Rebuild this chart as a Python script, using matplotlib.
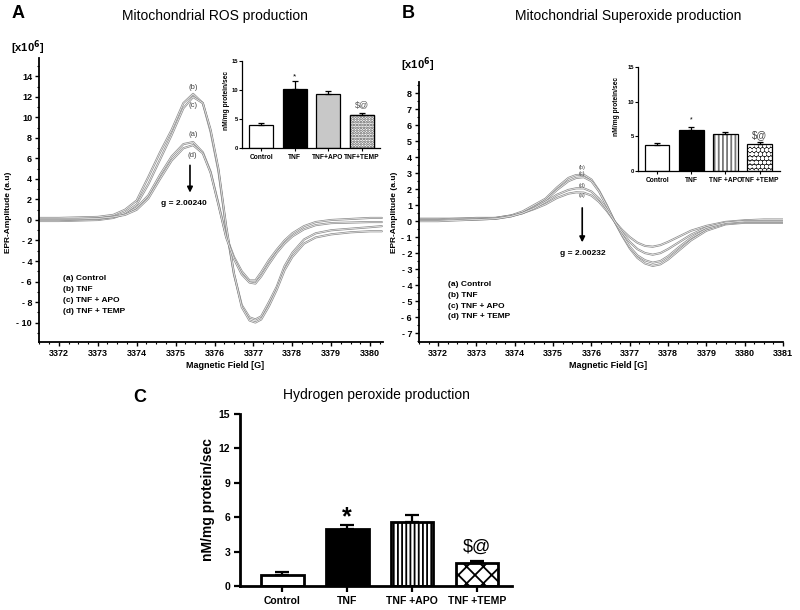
import matplotlib
matplotlib.use('Agg')
import matplotlib.pyplot as plt
from matplotlib.ticker import MultipleLocator, FuncFormatter

plt.rcParams['font.family'] = ['Liberation Sans', 'DejaVu Sans']
plt.rcParams['font.weight'] = 'bold'
plt.rcParams['axes.labelweight'] = 'bold'
plt.rcParams['hatch.linewidth'] = 1.3

# ---- EPR spectra, panel A (field in G, amplitude in 1e6 a.u.)
field_a = [3371.5, 3372.0, 3372.5, 3373.0, 3373.4, 3373.7, 3374.0, 3374.3, 3374.6, 3374.9,
           3375.2, 3375.45, 3375.7, 3375.9, 3376.1, 3376.3, 3376.5, 3376.7, 3376.9, 3377.05,
           3377.2, 3377.4, 3377.6, 3377.8, 3378.0, 3378.3, 3378.6, 3379.0, 3379.5, 3380.0, 3380.3]
ros_control = [-0.1, -0.1, -0.05, 0.0, 0.2, 0.6, 1.2, 2.4, 4.4, 6.2,
               7.4, 7.6, 6.6, 4.7, 1.6, -1.6, -3.6, -5.0, -5.9, -5.9,
               -5.1, -3.9, -2.9, -2.0, -1.3, -0.6, -0.2, 0.0, 0.1, 0.2, 0.2]
ros_tnf = [0.2, 0.2, 0.25, 0.3, 0.5, 1.0, 1.9, 4.2, 6.6, 8.8,
           11.4, 12.3, 11.4, 8.6, 4.8, -0.8, -5.3, -8.3, -9.5, -9.7,
           -9.4, -8.0, -6.5, -4.5, -3.2, -1.9, -1.3, -1.0, -0.85, -0.7, -0.6]
ros_apo = [0.0, 0.0, 0.05, 0.1, 0.3, 0.7, 1.5, 3.5, 5.9, 8.3,
           10.9, 12.0, 11.4, 8.8, 5.0, -0.6, -5.2, -8.5, -9.8, -10.0,
           -9.7, -8.4, -6.8, -4.9, -3.6, -2.3, -1.7, -1.4, -1.2, -1.1, -1.1]
ros_temp = [0.1, 0.1, 0.1, 0.15, 0.3, 0.5, 1.0, 2.1, 4.0, 5.8,
            7.0, 7.3, 6.5, 4.6, 1.5, -1.7, -3.8, -5.3, -6.1, -6.2,
            -5.5, -4.3, -3.2, -2.3, -1.6, -0.9, -0.5, -0.3, -0.25, -0.2, -0.2]

# ---- EPR spectra, panel B
field_b = [3371.5, 3372.0, 3372.5, 3373.0, 3373.5, 3373.9, 3374.2, 3374.5, 3374.8, 3375.1,
           3375.4, 3375.6, 3375.8, 3376.0, 3376.2, 3376.4, 3376.6, 3376.8, 3377.0, 3377.2,
           3377.4, 3377.6, 3377.8, 3378.0, 3378.3, 3378.6, 3379.0, 3379.5, 3380.0, 3380.5, 3381.0]
sox_control = [0.15, 0.15, 0.15, 0.2, 0.2, 0.35, 0.5, 0.75, 1.05, 1.45,
               1.72, 1.8, 1.78, 1.6, 1.2, 0.65, 0.0, -0.55, -1.0, -1.35,
               -1.55, -1.6, -1.5, -1.3, -0.95, -0.6, -0.3, -0.05, 0.05, 0.1, 0.1]
sox_tnf = [0.1, 0.1, 0.15, 0.15, 0.2, 0.35, 0.6, 1.0, 1.4, 2.1,
           2.7, 2.88, 2.9, 2.6, 1.9, 1.0, 0.0, -0.9, -1.7, -2.3,
           -2.65, -2.8, -2.7, -2.4, -1.8, -1.2, -0.6, -0.2, -0.1, -0.1, -0.1]
sox_apo = [0.05, 0.05, 0.1, 0.1, 0.15, 0.3, 0.5, 0.85, 1.3, 1.95,
           2.5, 2.7, 2.75, 2.5, 1.85, 0.95, 0.0, -0.85, -1.6, -2.15,
           -2.45, -2.6, -2.5, -2.2, -1.6, -1.05, -0.5, -0.15, -0.05, -0.05, -0.05]
sox_temp = [0.0, 0.0, 0.05, 0.1, 0.15, 0.3, 0.5, 0.8, 1.2, 1.65,
            1.95, 2.05, 2.05, 1.85, 1.4, 0.75, 0.0, -0.7, -1.3, -1.75,
            -2.0, -2.1, -2.0, -1.75, -1.3, -0.85, -0.4, -0.1, 0.0, 0.0, 0.0]

# ---- bar data (nM/mg protein/sec)
labels_a = ['Control', 'TNF', 'TNF+APO', 'TNF+TEMP']
labels_b = ['Control', 'TNF', 'TNF +APO', 'TNF +TEMP']
labels_c = ['Control', 'TNF', 'TNF +APO', 'TNF +TEMP']
ros_mean = [4.0, 10.1, 9.3, 5.7]
ros_err = [0.3, 1.4, 0.5, 0.35]
sox_mean = [3.75, 5.9, 5.3, 3.9]
sox_err = [0.35, 0.4, 0.35, 0.35]
h2o2_mean = [0.95, 5.0, 5.6, 2.0]
h2o2_err = [0.25, 0.28, 0.55, 0.2]

legend_lines = ['(a) Control', '(b) TNF', '(c) TNF + APO', '(d) TNF + TEMP']

W, H = 800, 610
fig = plt.figure(figsize=(8, 6.1), dpi=100)


def box(l, t, r, b):
    return [l / W, 1 - b / H, (r - l) / W, (b - t) / H]


def ftext(x, y, s, **kw):
    fig.text(x / W, 1 - y / H, s, **kw)


def neg_fmt(v, pos):
    n = int(round(v))
    return '- %d' % abs(n) if n < 0 else '%d' % n


def epr_style(ax, ymajor, yminor):
    for s in ['top', 'right']:
        ax.spines[s].set_visible(False)
    for s in ['left', 'bottom']:
        ax.spines[s].set_linewidth(1.3)
    ax.xaxis.set_major_locator(MultipleLocator(1))
    ax.xaxis.set_minor_locator(MultipleLocator(0.25))
    ax.yaxis.set_major_locator(MultipleLocator(ymajor))
    ax.yaxis.set_minor_locator(MultipleLocator(yminor))
    ax.yaxis.set_major_formatter(FuncFormatter(neg_fmt))
    ax.xaxis.set_major_formatter(FuncFormatter(lambda v, p: '%d' % round(v)))
    ax.tick_params(which='major', direction='out', length=3, width=1, labelsize=6.5, pad=2)
    ax.tick_params(which='minor', direction='out', length=1.5, width=0.8)


def spectrum(ax, x, y):
    ax.plot(x, y, color='#8c8c8c', lw=1.5, solid_capstyle='round')
    ax.plot(x, y, color='white', lw=0.45)


# ================= Panel A =================
ax_a = fig.add_axes(box(39, 58, 383, 342))
for ys in [ros_control, ros_tnf, ros_apo, ros_temp]:
    spectrum(ax_a, field_a, ys)
ax_a.set_xlim(3371.49, 3380.33)
ax_a.set_ylim(-11.9, 15.8)
epr_style(ax_a, 2, 1)
ax_a.annotate('', xy=(3375.37, 2.4), xytext=(3375.37, 5.6),
              arrowprops=dict(arrowstyle='-|>', color='black', lw=1.2, mutation_scale=8))
ax_a.text(3375.21, 1.6, 'g = 2.00240', ha='center', va='center', fontsize=6)
for lab, yy in [('(b)', 12.95), ('(c)', 11.2), ('(a)', 8.3), ('(d)', 6.3)]:
    ax_a.text(3375.44, yy, lab, ha='center', va='center', fontsize=5.5, fontweight='normal', color='#444')

# ================= Panel B =================
ax_b = fig.add_axes(box(419, 82, 783, 342))
for ys in [sox_control, sox_tnf, sox_apo, sox_temp]:
    spectrum(ax_b, field_b, ys)
ax_b.set_xlim(3371.5, 3381.0)
ax_b.set_ylim(-7.56, 8.7)
epr_style(ax_b, 1, 0.5)
ax_b.annotate('', xy=(3375.76, -1.5), xytext=(3375.76, 1.0),
              arrowprops=dict(arrowstyle='-|>', color='black', lw=1.2, mutation_scale=8))
ax_b.text(3375.78, -2.05, 'g = 2.00232', ha='center', va='center', fontsize=6)
for lab, yy in [('(b)', 3.35), ('(c)', 3.0), ('(d)', 2.25), ('(a)', 1.6)]:
    ax_b.text(3375.76, yy, lab, ha='center', va='center', fontsize=4, fontweight='normal', color='#444')

# shared texts for A and B
ftext(18, 14, 'A', fontsize=13, ha='center', va='center')
ftext(215, 16, 'Mitochondrial ROS production', fontsize=10, fontweight='normal', ha='center', va='center')
ftext(408, 14, 'B', fontsize=13, ha='center', va='center')
ftext(628, 16, 'Mitochondrial Superoxide production', fontsize=10, fontweight='normal', ha='center', va='center')
ftext(28, 48, r'[x10$^{\mathbf{6}}$]', fontsize=8, ha='center', va='center')
ftext(418, 65, r'[x10$^{\mathbf{6}}$]', fontsize=8, ha='center', va='center')
ftext(9, 212, 'EPR-Amplitude (a.u)', fontsize=6, rotation=90, ha='center', va='center')
ftext(394, 212, 'EPR-Amplitude (a.u)', fontsize=6, rotation=90, ha='center', va='center')
ftext(225, 365, 'Magnetic Field [G]', fontsize=6.5, ha='center', va='center')
ftext(608, 365, 'Magnetic Field [G]', fontsize=6.5, ha='center', va='center')
for i, s in enumerate(legend_lines):
    ftext(63, 279 + i * 10.7, s, fontsize=6, ha='left', va='center')
    ftext(448, 285 + i * 10.5, s, fontsize=6, ha='left', va='center')


# ================= insets =================
def inset_style(ax, labels, size):
    for s in ['top', 'right']:
        ax.spines[s].set_visible(False)
    for s in ['left', 'bottom']:
        ax.spines[s].set_linewidth(0.9)
    ax.set_ylim(0, 15)
    ax.set_yticks([0, 5, 10, 15])
    ax.set_xticks(range(4))
    ax.set_xticklabels(labels, fontsize=size)
    ax.tick_params(axis='y', length=2, width=0.8, labelsize=4.2, pad=0.8)
    ax.tick_params(axis='x', length=2, width=0.8, pad=2)


xs = list(range(4))
ins_a = fig.add_axes(box(242, 61, 380, 148))
ins_a.bar(xs, ros_mean, width=0.72, color=['white', 'black', '#c8c8c8', 'white'],
          edgecolor='black', linewidth=0.9, zorder=2)
ins_a.bar(3, ros_mean[3], width=0.72, color='white', edgecolor='#555555', hatch='......', linewidth=0, zorder=2)
ins_a.bar(3, ros_mean[3], width=0.72, fill=False, edgecolor='black', linewidth=0.9, zorder=3)
ins_a.errorbar(xs, ros_mean, yerr=[[0] * 4, ros_err], fmt='none', ecolor='black',
               elinewidth=0.9, capsize=2.5, capthick=0.9, zorder=4)
ins_a.set_xlim(-0.57, 3.55)
inset_style(ins_a, labels_a, 4.8)
ins_a.text(1, 12.3, '*', ha='center', va='center', fontsize=6, fontweight='normal')
ins_a.text(3, 7.3, '$@', ha='center', va='center', fontsize=6.5, fontweight='normal', color='#555')
ftext(227, 100, 'nM/mg protein/sec', fontsize=4.8, rotation=90, ha='center', va='center')

ins_b = fig.add_axes(box(638, 67, 780, 171))
ins_b.bar(xs[:2], sox_mean[:2], width=0.72, color=['white', 'black'],
          edgecolor='black', linewidth=0.9, zorder=2)
ins_b.bar(2, sox_mean[2], width=0.72, color='white', edgecolor='#777777', hatch='||||', linewidth=0, zorder=2)
ins_b.bar(3, sox_mean[3], width=0.72, color='#222222', edgecolor='white', hatch='oooo', linewidth=0, zorder=2)
ins_b.bar(xs[2:], sox_mean[2:], width=0.72, fill=False, edgecolor='black', linewidth=0.9, zorder=3)
ins_b.errorbar(xs, sox_mean, yerr=[[0] * 4, sox_err], fmt='none', ecolor='black',
               elinewidth=0.9, capsize=2.5, capthick=0.9, zorder=4)
ins_b.set_xlim(-0.56, 3.6)
inset_style(ins_b, labels_b, 4.8)
ins_b.text(1, 7.3, '*', ha='center', va='center', fontsize=5, fontweight='normal')
ins_b.text(3, 5.2, '$@', ha='center', va='center', fontsize=7, fontweight='normal', color='#444')
ftext(617, 107, 'nM/mg protein/sec', fontsize=4.8, rotation=90, ha='center', va='center')

# ================= Panel C =================
ax_c = fig.add_axes(box(240, 414, 512, 586))
ax_c.bar(xs[:2], h2o2_mean[:2], width=0.66, color=['white', 'black'], edgecolor='black',
         linewidth=2, zorder=2)
ax_c.bar(2, h2o2_mean[2], width=0.66, color='white', edgecolor='black', hatch='||||',
         linewidth=2, zorder=2)
ax_c.bar(3, h2o2_mean[3], width=0.66, color='white', edgecolor='black', hatch='xx',
         linewidth=2, zorder=2)
ax_c.errorbar(xs, h2o2_mean, yerr=[[0] * 4, h2o2_err], fmt='none', ecolor='black',
              elinewidth=1.6, capsize=5, capthick=1.6, zorder=4)
ax_c.set_xlim(-0.65, 3.54)
ax_c.set_ylim(0, 15)
ax_c.set_yticks([0, 3, 6, 9, 12, 15])
ax_c.set_xticks(xs)
ax_c.set_xticklabels(labels_c, fontsize=7.5)
for s in ['top', 'right']:
    ax_c.spines[s].set_visible(False)
for s in ['left', 'bottom']:
    ax_c.spines[s].set_linewidth(2)
ax_c.tick_params(axis='both', direction='out', length=4, width=1.6, labelsize=7.5, pad=3)
ax_c.set_ylabel('nM/mg protein/sec', fontsize=10, fontweight='bold', labelpad=3)
ax_c.text(1, 6.0, '*', ha='center', va='center', fontsize=18)
ax_c.text(3, 3.4, '$@', ha='center', va='center', fontsize=13, fontweight='normal')
ftext(140, 397, 'C', fontsize=13, ha='center', va='center')
ftext(376, 395, 'Hydrogen peroxide production', fontsize=10, fontweight='normal', ha='center', va='center')

fig.savefig('out.png', dpi=100)
